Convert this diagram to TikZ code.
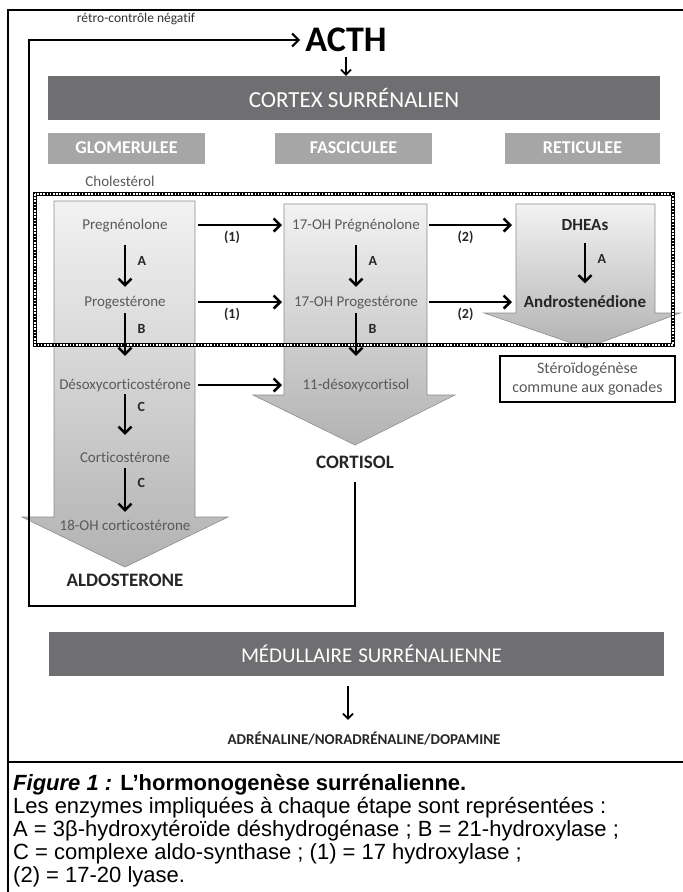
\documentclass[tikz,border=0pt]{standalone}
\usepackage{fontspec}
\setmainfont[Ligatures=NoCommon]{Carlito}
\newfontfamily\legfont{Liberation Sans}
\usetikzlibrary{arrows.meta}
\definecolor{grisfonce}{RGB}{111,111,114}
\definecolor{grisclair}{RGB}{166,166,166}
\definecolor{gristexte}{RGB}{89,89,89}
\newcommand{\taille}[1]{\fontsize{#1}{#1}\selectfont}

\begin{document}
\begin{tikzpicture}[x=1pt,y=-1pt,>={Straight Barb[length=6.5pt,width=13pt]},
  fleche/.style={->,line width=2.5pt},
  petite/.style={->,line width=1.7pt,>={Straight Barb[length=5pt,width=10pt]}},
  barre/.style={fill=grisfonce,text=white,inner sep=0pt,minimum height=44pt,font=\taille{23}},
  zone/.style={fill=grisclair,text=white,inner sep=0pt,minimum height=31pt,font=\bfseries\taille{18}},
  corps/.style={text=gristexte,font=\taille{15},inner sep=2pt,text height=11pt,text depth=3pt},
  gras/.style={text=black!85,font=\bfseries\taille{17}},
  enz/.style={text=black!85,font=\bfseries\taille{14}},
  colonne/.style={top color=black!5,bottom color=black!30,draw=black!45,line width=.6pt}]
  \useasboundingbox (0,0) rectangle (683,892);
  % cadre
  \draw[line width=2.5pt] (683,10) -- (8,10) -- (8,892);
  % grandes fleches
  \shade[colonne] (54,201) -- (195,201) -- (195,517) -- (228,517) -- (125,567) -- (22,517) -- (54,517) -- cycle;
  \shade[colonne] (284,204) -- (427,204) -- (427,395) -- (455,395) -- (355,445) -- (253,395) -- (284,395) -- cycle;
  \shade[colonne] (516,204) -- (655,204) -- (655,313) -- (680,313) -- (586,348) -- (484,313) -- (516,313) -- cycle;
  % cadre hachure
  \draw[line width=4pt] (35,194) rectangle (673,345);
  \draw[white,line width=1.8pt,dash pattern=on 1.6pt off 1.6pt] (35,194) rectangle (673,345);

  % haut
  \node[font=\bfseries\taille{36},inner sep=5pt] (acth) at (346,40) {ACTH};
  \node[text=black!80,font=\taille{13.5}] (retro) at (136,19) {rétro-contrôle négatif};
  \node[barre,minimum width=612pt] (cortex) at (354,98) {CORTEX SURRÉNALIEN};
  \node[zone,minimum width=157pt] (glom) at (126.5,148) {GLOMERULEE};
  \node[zone,minimum width=157pt] (fasc) at (353.5,148) {FASCICULEE};
  \node[zone,minimum width=155pt] (reti) at (582.5,148) {RETICULEE};
  \node[corps] (chol) at (120,182) {Cholestérol};
  \draw[petite] (acth) -- (acth |- cortex.north);

  % glomerulee
  \node[corps] (preg) at (125,225) {Pregnénolone};
  \node[corps] (prog) at (125,302) {Progestérone};
  \node[corps] (deso) at (125,385) {Désoxycorticostérone};
  \node[corps] (cort) at (125,458) {Corticostérone};
  \node[corps] (oh18) at (125,526) {18-OH corticostérone};
  \node[gras,font=\bfseries\taille{19}] (aldo) at (125,580) {ALDOSTERONE};
  % fasciculee
  \node[corps] (ohpreg) at (356,225) {17-OH Prégnénolone};
  \node[corps] (ohprog) at (356,302) {17-OH Progestérone};
  \node[corps] (desol) at (356,385) {11-désoxycortisol};
  \node[gras,font=\bfseries\taille{19}] (cortisol) at (355,462) {CORTISOL};
  % reticulee
  \node[gras] (dhea) at (585,225) {DHEAs};
  \node[gras] (andro) at (585,302) {Androstenédione};
  \node[draw,line width=1.5pt,minimum width=175pt,minimum height=46pt,align=center,text=gristexte,font=\fontsize{16}{19}\selectfont] (gonade) at (587.5,379) {Stéroïdogénèse\\commune aux gonades};

  % bords des colonnes
  \coordinate (gD) at (198,0);
  \coordinate (fG) at (282,0);
  \coordinate (fD) at (429,0);
  \coordinate (rG) at (512,0);

  % fleches verticales
  \draw[fleche,shorten <=11pt,shorten >=6pt] (preg) -- node[enz,pos=.45,right=8pt]{A} (prog);
  \draw[fleche,shorten <=2pt,shorten >=20pt] (prog) -- node[enz,pos=.27,right=8pt]{B} (deso);
  \draw[fleche,shorten <=0pt,shorten >=14pt] (deso) -- node[enz,pos=.24,right=8pt]{C} (cort);
  \draw[fleche,shorten <=1pt,shorten >=5pt] (cort) -- node[enz,pos=.32,right=8pt]{C} (oh18);
  \draw[fleche,shorten <=11pt,shorten >=6pt] (ohpreg) -- node[enz,pos=.45,right=8pt]{A} (ohprog);
  \draw[fleche,shorten <=2pt,shorten >=20pt] (ohprog) -- node[enz,pos=.27,right=8pt]{B} (desol);
  \draw[fleche,shorten <=9pt,shorten >=9pt] (dhea) -- node[enz,pos=.42,right=8pt]{A} (andro);
  % fleches horizontales
  \draw[fleche] (preg -| gD) -- node[enz,below=2pt,xshift=-8pt]{(1)} (ohpreg -| fG);
  \draw[fleche] (prog -| gD) -- node[enz,below=2pt,xshift=-8pt]{(1)} (ohprog -| fG);
  \draw[fleche] (deso -| gD) -- (desol -| fG);
  \draw[fleche] (ohpreg -| fD) -- node[enz,below=2pt,xshift=-5pt]{(2)} (dhea -| rG);
  \draw[fleche] (ohprog -| fD) -- node[enz,below=2pt,xshift=-5pt]{(2)} (andro -| rG);

  % retro-controle
  \coordinate (boucle) at (29,606);
  \draw[fleche,line width=2.2pt] ([yshift=-10pt]cortisol.south) |- (boucle) |- (acth.west);

  % medullaire
  \node[barre,minimum width=615pt,text width=615pt,align=center,font=\taille{21}] (medul) at (356.5,654) {\hspace*{30pt}MÉDULLAIRE\hspace{-1pt} SURRÉNALIENNE};
  \node[gras,font=\bfseries\taille{15}] (adre) at (364,739) {ADRÉNALINE/NORADRÉNALINE/DOPAMINE};
  \coordinate (axe) at (348,0);
  \draw[petite,shorten <=10pt,shorten >=9pt] (medul.south -| axe) -- (adre.north -| axe);

  % legende
  \draw[line width=1.3pt] (8,762) -- (683,762);
  \node[anchor=north west,inner sep=0pt,align=left,font=\legfont\fontsize{22}{23}\selectfont] (legende) at (13,774)
    {\textbf{\textit{Figure 1 :}} \textbf{L’hormonogenèse surrénalienne.}\\
     Les enzymes impliquées à chaque étape sont représentées :\\
     A = 3β-hydroxytéroïde déshydrogénase ; B = 21-hydroxylase ;\\
     C = complexe aldo-synthase ; (1) = 17 hydroxylase ;\\
     (2) = 17-20 lyase.};
\end{tikzpicture}
\end{document}
